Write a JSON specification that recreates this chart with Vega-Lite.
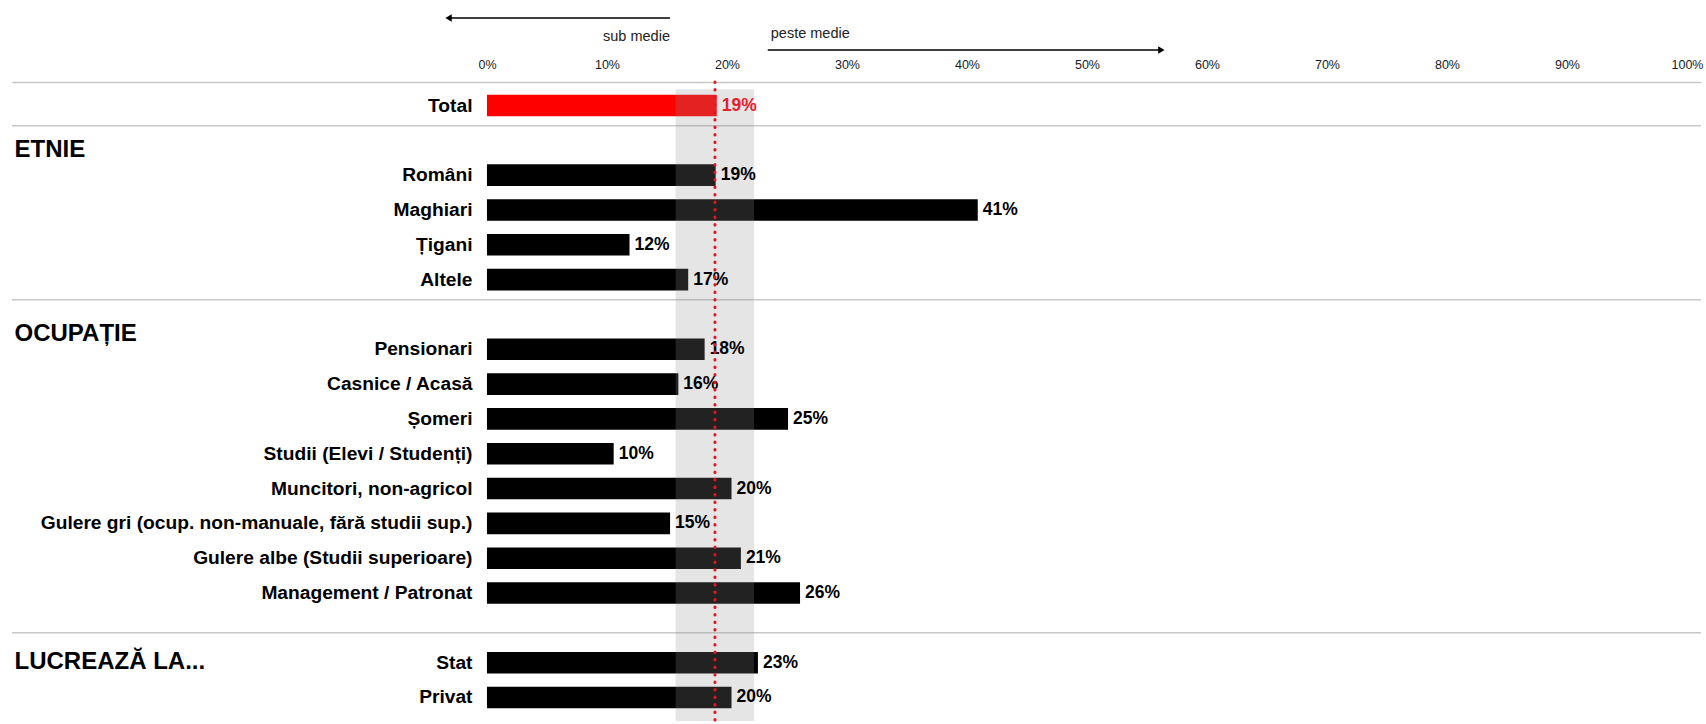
{
  "$schema": "https://vega.github.io/schema/vega-lite/v6.json",
  "background": "white",
  "padding": {"left": 11, "top": 10, "right": 6, "bottom": 3},
  "autosize": {"type": "pad"},
  "bounds": "flush",
  "spacing": 24,
  "config": {"view": {"stroke": null}, "font": "Liberation Sans"},
  "datasets": {
    "rows": [
      {"category": "Total", "value": 19.15, "label": "19%"},
      {"category": "Români", "value": 19.06, "label": "19%"},
      {"category": "Maghiari", "value": 40.9, "label": "41%"},
      {"category": "Țigani", "value": 11.88, "label": "12%"},
      {"category": "Altele", "value": 16.77, "label": "17%"},
      {"category": "Pensionari", "value": 18.14, "label": "18%"},
      {"category": "Casnice / Acasă", "value": 15.95, "label": "16%"},
      {"category": "Șomeri", "value": 25.09, "label": "25%"},
      {"category": "Studii (Elevi / Studenți)", "value": 10.56, "label": "10%"},
      {"category": "Muncitori, non-agricol", "value": 20.38, "label": "20%"},
      {"category": "Gulere gri (ocup. non-manuale, fără studii sup.)", "value": 15.26, "label": "15%"},
      {"category": "Gulere albe (Studii superioare)", "value": 21.16, "label": "21%"},
      {"category": "Management / Patronat", "value": 26.09, "label": "26%"},
      {"category": "Stat", "value": 22.58, "label": "23%"},
      {"category": "Privat", "value": 20.38, "label": "20%"}
    ],
    "sections": [
      {"category": "ETNIE"},
      {"category": "OCUPAȚIE"},
      {"category": "LUCREAZĂ LA..."}
    ],
    "band": [{"lo": 15.72, "hi": 22.26, "mean": 19}],
    "arrows": [
      {"direction": "below", "label": "sub medie", "from": 15.25, "to": -3.2},
      {"direction": "above", "label": "peste medie", "from": 23.4, "to": 56.2}
    ]
  },
  "vconcat": [
    {
      "width": 1689,
      "height": 48,
      "data": {"name": "arrows"},
      "layer": [
        {
          "mark": {"type": "rule", "color": "#000000", "strokeWidth": 1.3},
          "encoding": {
            "x": {"field": "from", "type": "quantitative", "scale": {"domain": [-39.58, 101.17], "nice": false, "zero": false}, "axis": null},
            "x2": {"field": "to"},
            "y": {"field": "direction", "type": "nominal", "scale": {"domain": ["below", "labels", "above"], "paddingInner": 0, "paddingOuter": 0}, "axis": null}
          }
        },
        {
          "mark": {"type": "point", "filled": true, "color": "#000000", "opacity": 1, "size": 55},
          "encoding": {
            "x": {"field": "to", "type": "quantitative", "scale": {"domain": [-39.58, 101.17], "nice": false, "zero": false}, "axis": null},
            "y": {"field": "direction", "type": "nominal", "scale": {"domain": ["below", "labels", "above"], "paddingInner": 0, "paddingOuter": 0}, "axis": null},
            "shape": {"field": "direction", "type": "nominal", "scale": {"domain": ["below", "above"], "range": ["triangle-left", "triangle-right"]}, "legend": null}
          }
        },
        {
          "transform": [{"filter": "datum.direction === 'below'"}],
          "mark": {"type": "text", "align": "right", "baseline": "middle", "dy": 3, "fontSize": 14.5, "color": "#222222"},
          "encoding": {
            "x": {"field": "from", "type": "quantitative", "scale": {"domain": [-39.58, 101.17], "nice": false, "zero": false}, "axis": null},
            "y": {"datum": "labels", "type": "nominal", "scale": {"domain": ["below", "labels", "above"], "paddingInner": 0, "paddingOuter": 0}, "axis": null},
            "text": {"field": "label"}
          }
        },
        {
          "transform": [{"filter": "datum.direction === 'above'"}],
          "mark": {"type": "text", "align": "left", "baseline": "middle", "dx": 3, "fontSize": 14.5, "color": "#222222"},
          "encoding": {
            "x": {"field": "from", "type": "quantitative", "scale": {"domain": [-39.58, 101.17], "nice": false, "zero": false}, "axis": null},
            "y": {"datum": "labels", "type": "nominal", "scale": {"domain": ["below", "labels", "above"], "paddingInner": 0, "paddingOuter": 0}, "axis": null},
            "text": {"field": "label"}
          }
        }
      ]
    },
    {
      "width": 1689,
      "height": 639,
      "layer": [
        {
          "data": {"name": "rows"},
          "mark": {"type": "bar", "height": {"band": 0.62}},
          "encoding": {
            "x": {
              "field": "value", "type": "quantitative",
              "scale": {"domain": [-39.58, 101.17], "nice": false, "zero": false},
              "axis": {
                "orient": "top", "values": [0, 10, 20, 30, 40, 50, 60, 70, 80, 90, 100],
                "labelExpr": "datum.value + '%'", "title": null,
                "domain": true, "domainColor": "#c8c8c8", "domainWidth": 1.5,
                "ticks": false, "tickSize": 0, "grid": false,
                "labelFont": "Liberation Sans", "labelFontSize": 12.5, "labelColor": "#1a1a1a",
                "labelPadding": 11, "labelFlush": false, "labelOverlap": false
              }
            },
            "y": {
              "field": "category", "type": "nominal",
              "scale": {"domain": ["Total", "ETNIE", "Români", "Maghiari", "Țigani", "Altele", "OCUPAȚIE", "Pensionari", "Casnice / Acasă", "Șomeri", "Studii (Elevi / Studenți)", "Muncitori, non-agricol", "Gulere gri (ocup. non-manuale, fără studii sup.)", "Gulere albe (Studii superioare)", "Management / Patronat", "LUCREAZĂ LA...", "Stat", "Privat"], "paddingInner": 0, "paddingOuter": 0.175},
              "axis": {
                "title": null, "domain": false, "ticks": false, "tickSize": 0, "grid": false,
                "offset": -475, "labelLimit": 1000, "labelOverlap": false, "labelColor": "#000000",
                "labelFontWeight": "bold", "labelBaseline": "middle", "labelFont": "Liberation Sans",
                "labelAlign": {"condition": {"test": "datum.value === upper(datum.value)", "value": "left"}, "value": "right"},
                "labelPadding": {"condition": {"test": "datum.value === upper(datum.value)", "value": 473}, "value": 15},
                "labelFontSize": {"condition": {"test": "datum.value === upper(datum.value)", "value": 24}, "value": 19.2},
                "labelOffset": {"condition": [
                  {"test": "datum.value === 'ETNIE'", "value": 10},
                  {"test": "datum.value === 'OCUPAȚIE'", "value": 20},
                  {"test": "datum.value === 'LUCREAZĂ LA...'", "value": 34}
                ], "value": 0}
              }
            },
            "color": {"condition": {"test": "datum.category === 'Total'", "value": "#ff0000"}, "value": "#000000"}
          }
        },
        {
          "data": {"name": "sections"},
          "transform": [{"filter": "datum.category !== 'LUCREAZĂ LA...'"}],
          "mark": {"type": "rule", "color": "#c8c8c8", "strokeWidth": 1.5},
          "encoding": {
            "y": {"field": "category", "type": "nominal", "bandPosition": 0.08, "scale": {"domain": ["Total", "ETNIE", "Români", "Maghiari", "Țigani", "Altele", "OCUPAȚIE", "Pensionari", "Casnice / Acasă", "Șomeri", "Studii (Elevi / Studenți)", "Muncitori, non-agricol", "Gulere gri (ocup. non-manuale, fără studii sup.)", "Gulere albe (Studii superioare)", "Management / Patronat", "LUCREAZĂ LA...", "Stat", "Privat"], "paddingInner": 0, "paddingOuter": 0.175}}
          }
        },
        {
          "data": {"name": "sections"},
          "transform": [{"filter": "datum.category === 'LUCREAZĂ LA...'"}],
          "mark": {"type": "rule", "color": "#c8c8c8", "strokeWidth": 1.5},
          "encoding": {
            "y": {"field": "category", "type": "nominal", "bandPosition": 0.64, "scale": {"domain": ["Total", "ETNIE", "Români", "Maghiari", "Țigani", "Altele", "OCUPAȚIE", "Pensionari", "Casnice / Acasă", "Șomeri", "Studii (Elevi / Studenți)", "Muncitori, non-agricol", "Gulere gri (ocup. non-manuale, fără studii sup.)", "Gulere albe (Studii superioare)", "Management / Patronat", "LUCREAZĂ LA...", "Stat", "Privat"], "paddingInner": 0, "paddingOuter": 0.175}}
          }
        },
        {
          "data": {"name": "band"},
          "mark": {"type": "rect", "color": "#919191", "opacity": 0.235},
          "encoding": {
            "x": {"field": "lo", "type": "quantitative", "scale": {"domain": [-39.58, 101.17], "nice": false, "zero": false}},
            "x2": {"field": "hi"},
            "y": {"datum": "Total", "type": "nominal", "bandPosition": 0.03, "scale": {"domain": ["Total", "ETNIE", "Români", "Maghiari", "Țigani", "Altele", "OCUPAȚIE", "Pensionari", "Casnice / Acasă", "Șomeri", "Studii (Elevi / Studenți)", "Muncitori, non-agricol", "Gulere gri (ocup. non-manuale, fără studii sup.)", "Gulere albe (Studii superioare)", "Management / Patronat", "LUCREAZĂ LA...", "Stat", "Privat"], "paddingInner": 0, "paddingOuter": 0.175}},
            "y2": {"value": "height"}
          }
        },
        {
          "data": {"name": "rows"},
          "mark": {"type": "text", "align": "left", "baseline": "middle", "dx": 5, "font": "Liberation Sans", "fontWeight": "bold", "fontSize": 17.5},
          "encoding": {
            "x": {"field": "value", "type": "quantitative", "scale": {"domain": [-39.58, 101.17], "nice": false, "zero": false}},
            "y": {"field": "category", "type": "nominal", "scale": {"domain": ["Total", "ETNIE", "Români", "Maghiari", "Țigani", "Altele", "OCUPAȚIE", "Pensionari", "Casnice / Acasă", "Șomeri", "Studii (Elevi / Studenți)", "Muncitori, non-agricol", "Gulere gri (ocup. non-manuale, fără studii sup.)", "Gulere albe (Studii superioare)", "Management / Patronat", "LUCREAZĂ LA...", "Stat", "Privat"], "paddingInner": 0, "paddingOuter": 0.175}},
            "text": {"field": "label"},
            "color": {"condition": {"test": "datum.category === 'Total'", "value": "#e8202a"}, "value": "#000000"}
          }
        },
        {
          "data": {"name": "band"},
          "mark": {"type": "rule", "color": "#e8141c", "strokeWidth": 3, "strokeCap": "round", "strokeDash": [0.5, 7]},
          "encoding": {
            "x": {"field": "mean", "type": "quantitative", "scale": {"domain": [-39.58, 101.17], "nice": false, "zero": false}}
          }
        }
      ]
    }
  ]
}
